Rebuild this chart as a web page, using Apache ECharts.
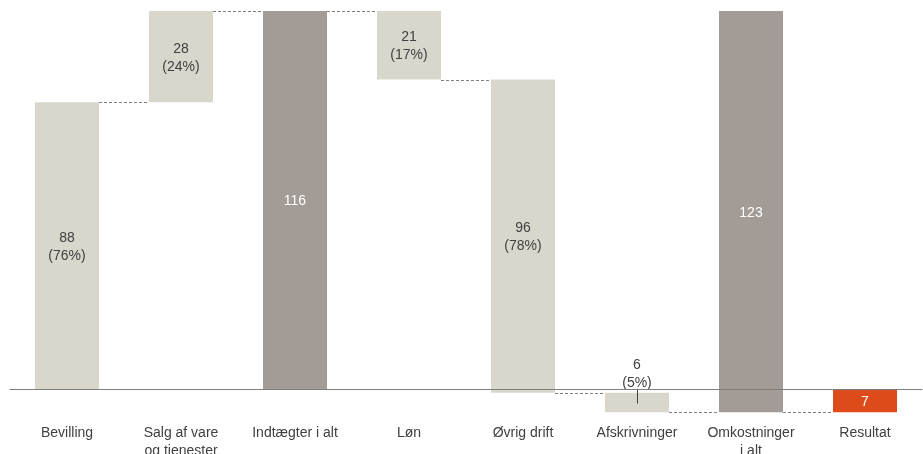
<!DOCTYPE html>
<html>
<head>
<meta charset="utf-8">
<script src="https://cdn.jsdelivr.net/npm/echarts@6/dist/echarts.min.js"></script>
<style>
html,body{margin:0;padding:0;background:#fff;}
#chart{width:923px;height:454px;}
</style>
</head>
<body>
<div id="chart"></div>
<script>
// ---- data ----
var categories = ['Bevilling', 'Salg af vare\nog tjenester', 'Indtægter i alt', 'Løn', 'Øvrig drift', 'Afskrivninger', 'Omkostninger\ni alt', 'Resultat'];
var kinds = ['part', 'part', 'total', 'part', 'part', 'part', 'total', 'result'];
var startValues = [0, 88, 0, 116, 95, -1, 116, 0];
var changeValues = [88, 28, 116, -21, -96, -6, -123, -7];
var shownValues = ['88', '28', '116', '21', '96', '6', '123', '7'];
var shares = ['(76%)', '(24%)', '', '(17%)', '(78%)', '(5%)', '', ''];

// ---- style ----
var colors = { part: '#D9D7CB', total: '#A39B95', result: '#DE4B1B' };
var textColors = { part: '#404040', total: '#ffffff', result: '#ffffff' };
var FONT = 'Liberation Sans, Arial, sans-serif';

var seriesData = categories.map(function (c, i) {
  return [i, startValues[i], startValues[i] + changeValues[i]];
});

function renderItem(params, api) {
  var i = api.value(0);
  var from = api.value(1), to = api.value(2);
  var p1 = api.coord([i, from]);
  var p2 = api.coord([i, to]);
  var band = api.size([1, 0])[0];
  var w = band * 0.5614;
  var x = p1[0] - w / 2;
  var yTop = Math.min(p1[1], p2[1]);
  var h = Math.abs(p1[1] - p2[1]);
  var kind = kinds[i];
  var children = [];
  children.push({
    type: 'rect',
    shape: { x: x, y: yTop, width: w, height: h },
    style: { fill: colors[kind] }
  });
  if (i < categories.length - 1) {
    var yEnd = Math.round(p2[1]) + 0.5;
    children.push({
      type: 'line',
      shape: { x1: x + w, y1: yEnd, x2: x + band, y2: yEnd },
      style: { stroke: '#7f7f7f', lineWidth: 1, lineDash: [3, 2] },
      z2: 5
    });
  }
  var txt = shownValues[i] + (shares[i] ? '\n' + shares[i] : '');
  var outside = kind === 'part' && h < 30;
  if (outside) {
    children.push({
      type: 'text',
      x: p1[0], y: yTop - 1,
      style: {
        text: txt, align: 'center', verticalAlign: 'bottom',
        fill: textColors[kind], fontSize: 14, fontFamily: FONT, lineHeight: 18
      },
      z2: 10
    });
    children.push({
      type: 'line',
      shape: { x1: Math.round(p1[0]) + 0.5, y1: yTop - 4, x2: Math.round(p1[0]) + 0.5, y2: yTop + h / 2 + 1 },
      style: { stroke: '#404040', lineWidth: 1 },
      z2: 10
    });
  } else {
    children.push({
      type: 'text',
      x: p1[0], y: yTop + h / 2 + 1,
      style: {
        text: txt, align: 'center', verticalAlign: 'middle',
        fill: textColors[kind], fontSize: 14, fontFamily: FONT, lineHeight: 18
      },
      z2: 10
    });
  }
  return { type: 'group', children: children };
}

var chart = echarts.init(document.getElementById('chart'), null, { renderer: 'canvas' });
chart.setOption({
  animation: false,
  backgroundColor: '#ffffff',
  grid: { left: 10, right: 1, top: 11, bottom: 31.86, outerBoundsMode: 'none', containLabel: false },
  xAxis: {
    type: 'category',
    data: categories,
    boundaryGap: true,
    axisTick: { show: false },
    axisLine: { show: true, onZero: true, lineStyle: { color: '#7f7f7f', width: 1 } },
    axisLabel: { color: '#404040', fontSize: 14, fontFamily: FONT, margin: 2, lineHeight: 18, interval: 0 },
    splitLine: { show: false },
    z: 20
  },
  yAxis: {
    type: 'value',
    min: -10,
    max: 116,
    show: false,
    splitLine: { show: false }
  },
  series: [{
    type: 'custom',
    renderItem: renderItem,
    data: seriesData,
    encode: { x: 0, y: [1, 2] },
    z: 2
  }]
});
</script>
</body>
</html>
